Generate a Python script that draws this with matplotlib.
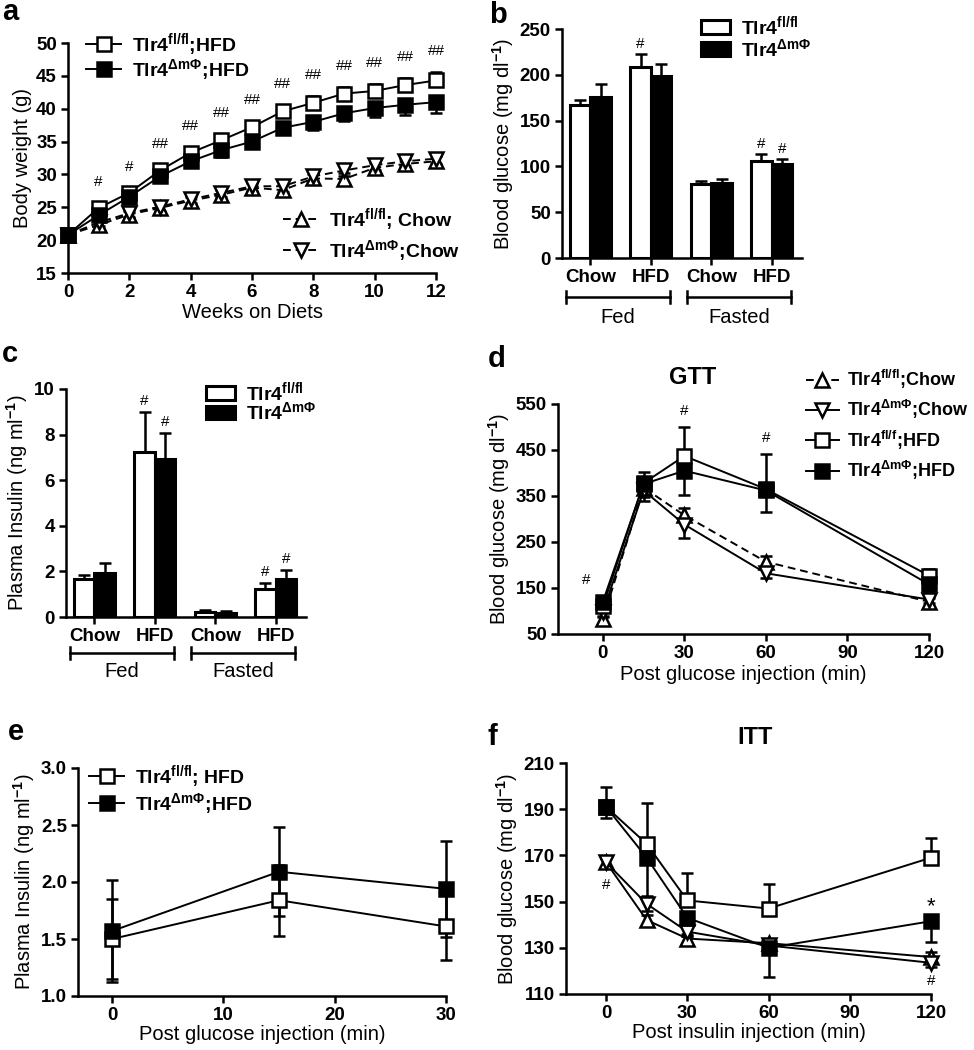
import matplotlib
matplotlib.use("Agg")
import matplotlib.pyplot as plt
from matplotlib.patches import Patch
import numpy as np

plt.rcParams['font.family'] = ['Liberation Sans', 'DejaVu Sans']
plt.rcParams['font.weight'] = 'bold'
plt.rcParams['mathtext.fontset'] = 'custom'
plt.rcParams['mathtext.rm'] = 'Liberation Sans'
plt.rcParams['mathtext.bf'] = 'Liberation Sans:bold'
plt.rcParams['mathtext.it'] = 'Liberation Sans:italic'

# ---- data ----
# a: body weight
weeks = list(range(13))
a_flfl_hfd = [20.8, 24.9, 27.2, 30.6, 33.3, 35.2, 37.2, 39.6, 40.9, 42.3, 42.7, 43.6, 44.3]
a_flfl_hfd_err = [0.6, 0.8, 0.8, 0.9, 0.8, 0.9, 1.0, 0.9, 1.0, 1.0, 1.0, 1.1, 1.3]
a_ko_hfd = [20.8, 23.8, 26.6, 29.7, 32.0, 33.7, 35.0, 37.1, 38.0, 39.3, 40.1, 40.6, 41.0]
a_ko_hfd_err = [0.6, 0.8, 0.8, 0.9, 0.9, 1.0, 1.0, 1.0, 1.3, 1.2, 1.3, 1.5, 1.7]
a_flfl_chow = [20.8, 22.3, 23.9, 24.9, 26.0, 26.9, 28.0, 27.6, 29.4, 29.3, 31.0, 31.6, 32.0]
a_ko_chow = [20.8, 22.7, 24.1, 25.1, 26.2, 27.2, 28.2, 28.2, 29.7, 30.6, 31.4, 32.0, 32.4]
a_chow_err = [0.5, 0.6, 0.6, 0.6, 0.6, 0.7, 0.7, 0.8, 0.7, 0.9, 0.7, 0.7, 0.8]
a_marks = ['', '#', '#', '##', '##', '##', '##', '##', '##', '##', '##', '##', '##']

# b: blood glucose (bars)
bar_groups = ['Chow', 'HFD', 'Chow', 'HFD']
b_flfl = [167, 208, 81, 106]
b_flfl_err = [5, 15, 3, 7]
b_ko = [176, 199, 82, 103]
b_ko_err = [14, 13, 4, 5]
b_flfl_marks = ['', '#', '', '#']
b_ko_marks = ['', '', '', '#']

# c: plasma insulin (bars)
c_flfl = [1.66, 7.25, 0.23, 1.23]
c_flfl_err = [0.2, 1.72, 0.08, 0.25]
c_ko = [1.92, 6.92, 0.18, 1.66]
c_ko_err = [0.44, 1.13, 0.1, 0.38]
c_flfl_marks = ['', '#', '', '#']
c_ko_marks = ['', '#', '', '#']

# d: GTT
gtt_t = [0, 15, 30, 60, 120]
d_flfl_chow = [82, 368, 308, 207, 120]
d_flfl_chow_err = [8, 15, 16, 12, 8]
d_ko_chow = [97, 362, 288, 182, 125]
d_ko_chow_err = [10, 15, 30, 10, 8]
d_flfl_hfd = [110, 378, 437, 365, 177]
d_flfl_hfd_err = [10, 25, 63, 76, 15]
d_ko_hfd = [120, 376, 405, 362, 158]
d_ko_hfd_err = [10, 37, 53, 46, 15]
d_marks = ['#', '', '#', '#', '']

# e: insulin during GTT
e_t = [0, 15, 30]
e_flfl = [1.50, 1.84, 1.61]
e_flfl_err = [0.35, 0.31, 0.29]
e_ko = [1.57, 2.09, 1.94]
e_ko_err = [0.45, 0.39, 0.42]

# f: ITT
itt_t = [0, 15, 30, 60, 120]
f_flfl_hfd = [191, 175, 150.5, 147, 169]
f_flfl_hfd_err = [8.5, 17.5, 12, 10.5, 8.5]
f_ko_hfd = [191, 169, 143, 130, 141.5]
f_ko_hfd_err = [5, 16.5, 8, 12.5, 9]
f_flfl_chow = [167, 142, 134, 132, 126]
f_flfl_chow_err = [2, 2, 2, 2, 2]
f_ko_chow = [167, 149, 137, 131, 123.5]
f_ko_chow_err = [2, 3, 2, 2, 2]

# labels
FLFL = r'Tlr4$^{\mathbf{fl/fl}}$'
FLF = r'Tlr4$^{\mathbf{fl/f}}$'
KO = r'Tlr4$^{\mathbf{\Delta m\Phi}}$'

W, H = 974, 1050
fig = plt.figure(figsize=(W / 100, H / 100), dpi=100)

TICK = 13.5
LAB = 14.5
LEG = 14


def add_ax(l, t, r, b):
    return fig.add_axes([l / W, 1 - b / H, (r - l) / W, (b - t) / H])


def style(ax):
    for s in ['top', 'right']:
        ax.spines[s].set_visible(False)
    for s in ['left', 'bottom']:
        ax.spines[s].set_linewidth(1.8)
    ax.tick_params(direction='out', length=5, width=1.8, labelsize=TICK, pad=3)


def fpos(x, y):
    return (x / W, 1 - y / H)


def letter(x, y, s):
    fig.text(x / W, 1 - y / H, s, fontsize=21, fontweight='bold', va='baseline')


def eb(ax, x, y, err, marker, face, ls='-', ms=9, lw=1.4, side='both'):
    z = np.zeros(len(err))
    if side == 'up':
        yerr = [z, err]
    elif side == 'down':
        yerr = [err, z]
    else:
        yerr = err
    c = ax.errorbar(x, y, yerr=yerr, fmt=marker, color='black', ls=ls, lw=lw,
                    mfc=face, mec='black', mew=1.8, ms=ms, capsize=4.5,
                    capthick=1.8, elinewidth=1.8, clip_on=False, zorder=3)
    for art in c.lines[1] + c.lines[2]:
        art.set_clip_on(False)
    if side != 'both':
        # hide the zero-length caps on the unused side
        for cap in c.lines[1]:
            if np.allclose(cap.get_ydata(), y):
                cap.set_visible(False)
    return c[0]


dash = (0, (4, 2.5))

# ---------------- a ----------------
ax = add_ax(68, 43, 436, 273)
style(ax)
l_ch1 = eb(ax, weeks, a_flfl_chow, a_chow_err, '^', 'white', ls=dash, ms=9.5)
l_ch2 = eb(ax, weeks, a_ko_chow, a_chow_err, 'v', 'white', ls=dash, ms=9.5)
l_h1 = eb(ax, weeks, a_flfl_hfd, a_flfl_hfd_err, 's', 'white', ms=9.5, side='up')
l_h2 = eb(ax, weeks, a_ko_hfd, a_ko_hfd_err, 's', 'black', ms=9.5, side='down')
for x, m, y, e in zip(weeks, a_marks, a_flfl_hfd, a_flfl_hfd_err):
    if m:
        ax.text(x, y + e + 3.2, m, ha='center', va='center', fontsize=11, fontweight='normal')
ax.set_xlim(0, 12)
ax.set_ylim(15, 50)
ax.set_xticks(range(0, 13, 2))
ax.set_yticks(range(15, 51, 5))
ax.set_xlabel('Weeks on Diets', fontsize=LAB, fontweight='normal', labelpad=1)
ax.set_ylabel('Body weight (g)', fontsize=LAB, fontweight='normal', labelpad=3)
leg1 = ax.legend([l_h1, l_h2], [FLFL + ';HFD', KO + ';HFD'], loc='upper left',
                 bbox_to_anchor=fpos(86, 31), bbox_transform=fig.transFigure,
                 frameon=False, fontsize=LEG, handlelength=1.8, handletextpad=0.55,
                 labelspacing=-0.05, borderpad=0, borderaxespad=0)
ax.add_artist(leg1)
ax.legend([l_ch1, l_ch2], [FLFL + '; Chow', KO + ';Chow'], loc='upper left',
          bbox_to_anchor=fpos(283, 206), bbox_transform=fig.transFigure,
          frameon=False, fontsize=LEG, handlelength=1.8, handletextpad=0.55,
          labelspacing=0.25, borderpad=0, borderaxespad=0)
letter(2, 20, 'a')


# ---------------- bar panels ----------------
def bar_panel(ax, v1, e1, v2, e2, m1, m2, mark_off, ylim, yticks, ylabel,
              brk_y, grp_y, leg_xy, leg_sp):
    style(ax)
    x = np.arange(len(bar_groups))
    w = 0.34
    kw = dict(capsize=4.5, capthick=1.8, elinewidth=1.8, ecolor='black')
    ax.bar(x - w / 2, v1, w, yerr=[np.zeros(4), e1], color='white',
           edgecolor='black', linewidth=2.2, error_kw=kw)
    ax.bar(x + w / 2, v2, w, yerr=[np.zeros(4), e2], color='black',
           edgecolor='black', linewidth=2.2, error_kw=kw)
    for i in range(4):
        if m1[i]:
            ax.text(x[i] - w / 2, v1[i] + e1[i] + mark_off, m1[i], ha='center',
                    va='center', fontsize=11, fontweight='normal')
        if m2[i]:
            ax.text(x[i] + w / 2, v2[i] + e2[i] + mark_off, m2[i], ha='center',
                    va='center', fontsize=11, fontweight='normal')
    ax.set_xticks(x)
    ax.set_xticklabels(bar_groups)
    ax.set_xlim(-0.47, 3.5)
    ax.set_ylim(*ylim)
    ax.set_yticks(yticks)
    ax.set_ylabel(ylabel, fontsize=LAB, fontweight='normal', labelpad=3)
    tr = ax.get_xaxis_transform()
    for (a0, a1), name in [((0, 1), 'Fed'), ((2, 3), 'Fasted')]:
        xs = [x[a0] - 0.41, x[a1] + 0.32]
        ax.plot(xs, [brk_y, brk_y], color='black', lw=1.8, transform=tr, clip_on=False)
        for xx in xs:
            ax.plot([xx, xx], [brk_y - 0.025, brk_y + 0.025], color='black', lw=1.8,
                    transform=tr, clip_on=False)
        ax.text(np.mean(xs), grp_y, name, transform=tr, ha='center', va='center',
                fontsize=LAB, fontweight='normal')
    ax.legend(handles=[Patch(facecolor='white', edgecolor='black', linewidth=2.2, label=FLFL),
                       Patch(facecolor='black', edgecolor='black', linewidth=2.2, label=KO)],
              loc='upper left', bbox_to_anchor=fpos(*leg_xy), bbox_transform=fig.transFigure,
              frameon=False, fontsize=LEG, handlelength=1.5, handleheight=0.7,
              handletextpad=0.55, labelspacing=leg_sp, borderpad=0, borderaxespad=0)


ax = add_ax(562, 29, 802, 258)
bar_panel(ax, b_flfl, b_flfl_err, b_ko, b_ko_err, b_flfl_marks, b_ko_marks, 11,
          (0, 250), range(0, 251, 50), r'Blood glucose (mg dl$^{-1}$)',
          -0.17, -0.262, (701, 14), 0.0)
letter(489, 23, 'b')

ax = add_ax(66, 389, 306, 617)
bar_panel(ax, c_flfl, c_flfl_err, c_ko, c_ko_err, c_flfl_marks, c_ko_marks, 0.5,
          (0, 10), range(0, 11, 2), r'Plasma Insulin (ng ml$^{-1}$)',
          -0.158, -0.241, (206, 380), -0.12)
letter(2, 362, 'c')

# ---------------- d ----------------
ax = add_ax(558, 404, 929, 634)
style(ax)
d1 = eb(ax, gtt_t, d_flfl_chow, d_flfl_chow_err, '^', 'white', ls=dash, ms=10, side='up')
d2 = eb(ax, gtt_t, d_ko_chow, d_ko_chow_err, 'v', 'white', ms=10, side='down')
d3 = eb(ax, gtt_t, d_flfl_hfd, d_flfl_hfd_err, 's', 'white', ms=10.5, side='up')
d4 = eb(ax, gtt_t, d_ko_hfd, d_ko_hfd_err, 's', 'black', ms=10.5, side='down')
for t, m, y, e in zip(gtt_t, d_marks, d_flfl_hfd, d_flfl_hfd_err):
    if m:
        yy = y + 57 if t == 0 else y + e + 35
        ax.text(t - (6 if t == 0 else 0), yy, m, ha='center', va='center',
                fontsize=11, fontweight='normal')
ax.set_xlim(-16.5, 120)
ax.set_ylim(50, 550)
ax.set_xticks([0, 30, 60, 90, 120])
ax.set_yticks(range(50, 551, 100))
ax.set_xlabel('Post glucose injection (min)', fontsize=LAB, fontweight='normal', labelpad=2)
ax.set_ylabel(r'Blood glucose (mg dl$^{-1}$)', fontsize=LAB, fontweight='normal', labelpad=3)
ax.text(33, 1.115, 'GTT', transform=ax.get_xaxis_transform(), ha='center', va='center',
        fontsize=17)
ax.legend([d1, d2, d3, d4], [FLFL + ';Chow', KO + ';Chow', FLF + ';HFD', KO + ';HFD'],
          loc='upper left', bbox_to_anchor=fpos(806, 368), bbox_transform=fig.transFigure,
          frameon=False, fontsize=13, handlelength=1.8, handletextpad=0.45,
          labelspacing=0.4, borderpad=0, borderaxespad=0)
letter(488, 367, 'd')

# ---------------- e ----------------
ax = add_ax(78, 768, 446, 996)
style(ax)
e1 = eb(ax, e_t, e_flfl, e_flfl_err, 's', 'white', ms=10)
e2 = eb(ax, e_t, e_ko, e_ko_err, 's', 'black', ms=10)
ax.set_xlim(-3.05, 30)
ax.set_ylim(1.0, 3.0)
ax.set_xticks([0, 10, 20, 30])
ax.set_yticks([1.0, 1.5, 2.0, 2.5, 3.0])
ax.set_yticklabels(['1.0', '1.5', '2.0', '2.5', '3.0'])
ax.set_xlabel('Post glucose injection (min)', fontsize=LAB, fontweight='normal', labelpad=1)
ax.set_ylabel(r'Plasma Insulin (ng ml$^{-1}$)', fontsize=LAB, fontweight='normal', labelpad=3)
ax.legend([e1, e2], [FLFL + '; HFD', KO + ';HFD'], loc='upper left',
          bbox_to_anchor=fpos(89, 763), bbox_transform=fig.transFigure,
          frameon=False, fontsize=LEG, handlelength=1.8, handletextpad=0.55,
          labelspacing=0.05, borderpad=0, borderaxespad=0)
letter(8, 740, 'e')

# ---------------- f ----------------
ax = add_ax(566, 763, 931, 994)
style(ax)
eb(ax, itt_t, f_flfl_chow, f_flfl_chow_err, '^', 'white', ms=10)
eb(ax, itt_t, f_ko_chow, f_ko_chow_err, 'v', 'white', ms=10)
eb(ax, itt_t, f_flfl_hfd, f_flfl_hfd_err, 's', 'white', ms=10.5, side='up')
eb(ax, itt_t, f_ko_hfd, f_ko_hfd_err, 's', 'black', ms=10.5, side='down')
ax.text(0, f_ko_chow[0] - 10, '#', ha='center', va='center', fontsize=11, fontweight='normal')
ax.text(120, f_ko_hfd[-1] + 6.5, '*', ha='center', va='center', fontsize=16, fontweight='normal')
ax.text(120, f_ko_chow[-1] - 8, '#', ha='center', va='center', fontsize=11, fontweight='normal')
ax.set_xlim(-14.8, 120)
ax.set_ylim(110, 210)
ax.set_xticks([0, 30, 60, 90, 120])
ax.set_yticks(range(110, 211, 20))
ax.set_xlabel('Post insulin injection (min)', fontsize=LAB, fontweight='normal', labelpad=1)
ax.set_ylabel(r'Blood glucose (mg dl$^{-1}$)', fontsize=LAB, fontweight='normal', labelpad=3)
ax.text(55, 1.11, 'ITT', transform=ax.get_xaxis_transform(), ha='center', va='center',
        fontsize=17)
letter(488, 745, 'f')

fig.savefig('out.png', dpi=100)
